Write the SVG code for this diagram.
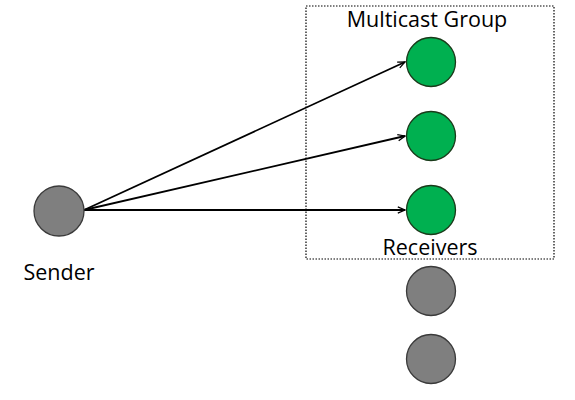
<svg xmlns="http://www.w3.org/2000/svg" width="575" height="400" viewBox="0 0 575 400">
<defs>
<style>
.lbl{font-family:"Open Sans","Liberation Sans",sans-serif;font-size:21.5px;fill:#000;text-anchor:middle}
.g{fill:#00B050;stroke:#1a3a1a;stroke-width:1.3}
.s{fill:#7F7F7F;stroke:#3a3a3a;stroke-width:1.3}
.e{stroke:#000;stroke-width:1.8;fill:none;marker-end:url(#arr)}
</style>
<marker id="arr" viewBox="0 0 10 10" refX="9" refY="5" markerWidth="9" markerHeight="9" orient="auto" markerUnits="userSpaceOnUse">
<path d="M1,1.5 L9,5 L1,8.5" fill="none" stroke="#000" stroke-width="1.4"/>
</marker>
</defs>
<rect id="group" x="306" y="6" width="248" height="253" fill="none" stroke="#000" stroke-width="1.2" stroke-dasharray="1.5,1.5"/>
<g id="connectors">
<line class="e" x1="84" y1="210" x2="405" y2="62"/>
<line class="e" x1="84" y1="210" x2="405" y2="136"/>
<line class="e" x1="84" y1="210" x2="405" y2="210"/>
</g>
<g id="sender"><circle class="s" cx="59" cy="211" r="25"/><text class="lbl" x="59" y="280">Sender</text></g>
<g id="r1"><circle class="g" cx="431" cy="62" r="24.5"/></g>
<g id="r2"><circle class="g" cx="431" cy="136" r="24.5"/></g>
<g id="r3"><circle class="g" cx="431" cy="210" r="24.5"/></g>
<g id="n4"><circle class="s" cx="431" cy="291" r="24.5"/></g>
<g id="n5"><circle class="s" cx="431" cy="359" r="24.5"/></g>
<text class="lbl" x="427" y="27">Multicast Group</text>
<text class="lbl" x="430" y="255">Receivers</text>
</svg>
